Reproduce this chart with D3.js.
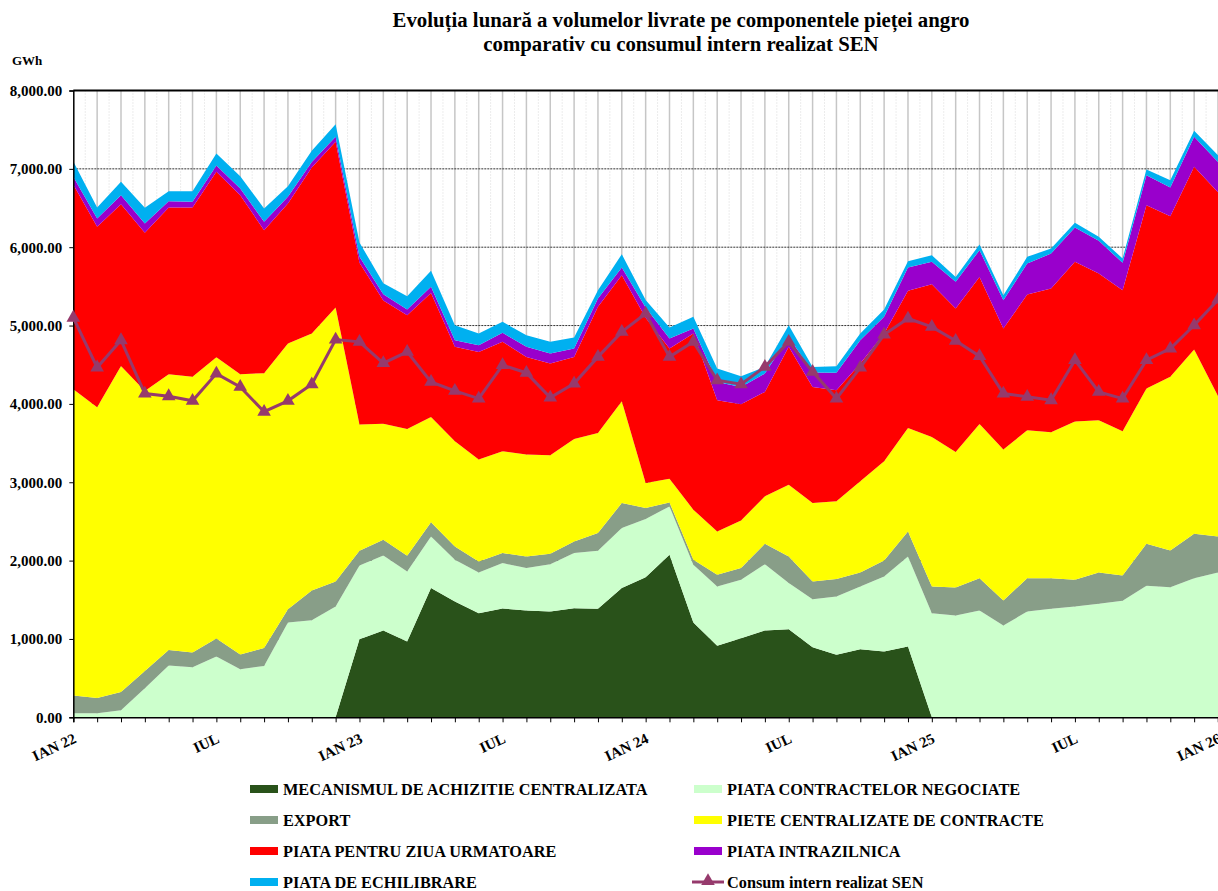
<!DOCTYPE html>
<html>
<head>
<meta charset="utf-8">
<script src="https://cdn.jsdelivr.net/npm/d3@7"></script>
<style>
  body { margin: 0; background: #fff; }
  text { font-family: "Liberation Serif", "Times New Roman", serif; font-weight: bold; fill: #000; }
</style>
</head>
<body>
<svg id="chart"></svg>
<script>
// months Jan 2022 .. Jan 2026
var months = [
  "2022-01","2022-02","2022-03","2022-04","2022-05","2022-06","2022-07","2022-08","2022-09","2022-10","2022-11","2022-12",
  "2023-01","2023-02","2023-03","2023-04","2023-05","2023-06","2023-07","2023-08","2023-09","2023-10","2023-11","2023-12",
  "2024-01","2024-02","2024-03","2024-04","2024-05","2024-06","2024-07","2024-08","2024-09","2024-10","2024-11","2024-12",
  "2025-01","2025-02","2025-03","2025-04","2025-05","2025-06","2025-07","2025-08","2025-09","2025-10","2025-11","2025-12",
  "2026-01"
];
var tickLabels = {
  "2022-01": "IAN 22", "2022-07": "IUL", "2023-01": "IAN 23", "2023-07": "IUL",
  "2024-01": "IAN 24", "2024-07": "IUL", "2025-01": "IAN 25", "2025-07": "IUL", "2026-01": "IAN 26"
};
var yTicks = [0, 1000, 2000, 3000, 4000, 5000, 6000, 7000, 8000];

// GWh per month
var mecanism = [0,0,0,0,0,0,0,0,0,0,0,0,
  997,1108,967,1649,1478,1329,1389,1363,1350,1393,1385,1649,
  1789,2075,1210,912,1010,1108,1125,895,797,869,839,903,
  0,0,0,0,0,0,0,0,0,0,0,0,0];
var negociate = [51,51,90,370,660,639,775,613,656,1210,1240,1414,
  941,958,895,660,533,520,579,541,605,703,741,766,
  741,617,737,758,745,847,588,613,745,801,959,1150,
  1329,1299,1363,1172,1350,1385,1414,1448,1487,1678,1661,1776,1849];
var exportv = [226,196,234,220,200,187,230,188,230,170,379,320,
  188,200,200,179,170,140,128,149,132,149,226,320,
  141,51,64,149,149,260,340,226,222,179,204,320,
  341,358,413,319,426,391,341,401,323,537,469,567,460];
var pccb = [3911,3711,4161,3575,3519,3519,3591,3578,3506,3390,3279,3496,
  1610,1481,1619,1346,1342,1300,1299,1300,1257,1308,1278,1299,
  320,303,639,554,609,605,916,1001,992,1163,1265,1320,
  1908,1730,1969,1926,1888,1862,2019,1942,1841,1981,2215,2351,1791];
var pzu = [2612,2302,2064,2018,2127,2161,2366,2285,1825,1788,2119,2115,
  2064,1573,1451,1583,1205,1375,1397,1247,1171,1047,1609,1609,
  2110,1661,2248,1674,1483,1333,1759,1482,1419,1503,1631,1750,
  1950,1830,1876,1545,1732,1835,2039,1873,1800,2340,2051,2332,2600];
var intrazilnica = [98,106,115,119,81,73,81,85,107,85,72,64,
  77,80,73,77,85,85,115,128,128,107,106,98,
  130,127,64,234,221,234,128,183,221,298,213,298,
  285,341,341,362,396,446,438,417,349,383,366,383,389];
var echilibrare = [197,140,170,200,128,136,153,157,170,136,141,161,
  183,140,170,204,191,149,140,149,149,140,106,170,
  95,141,149,170,136,86,148,70,85,85,93,80,
  85,63,72,63,85,64,60,51,56,73,93,76,86];
var consum = [5100,4465,4813,4132,4098,4039,4387,4217,3900,4039,4251,4822,
  4792,4520,4664,4281,4166,4068,4494,4396,4081,4260,4600,4919,
  5153,4600,4792,4302,4251,4473,4792,4409,4068,4464,4885,5090,
  4983,4805,4609,4132,4090,4047,4558,4153,4068,4558,4707,5004,5330];

var seriesNames = [
  "MECANISMUL DE ACHIZITIE CENTRALIZATA", "PIATA CONTRACTELOR NEGOCIATE", "EXPORT",
  "PIETE CENTRALIZATE DE CONTRACTE", "PIATA PENTRU ZIUA URMATOARE", "PIATA INTRAZILNICA",
  "PIATA DE ECHILIBRARE"
];
var seriesValues = [mecanism, negociate, exportv, pccb, pzu, intrazilnica, echilibrare];
var colors = ["#29521a", "#ccffcc", "#889e88", "#ffff00", "#ff0000", "#9900cc", "#00b0f0"];
var lineColor = "#963a6c";

var width = 1218, height = 891;
var margin = {top: 90.5, left: 73.3, bottom: 717.3, right: 1218};

var svg = d3.select("#chart")
    .attr("width", width)
    .attr("height", height);

var x = d3.scalePoint().domain(months).range([margin.left, margin.right]);
var y = d3.scaleLinear().domain([0, 8000]).range([margin.bottom, margin.top]);
var step = x.step();

// table for d3.stack
var table = months.map(function(m, i) {
  var row = {month: m};
  seriesNames.forEach(function(n, k) { row[n] = seriesValues[k][i]; });
  return row;
});
var stacked = d3.stack().keys(seriesNames)(table);

// grid
var grid = svg.append("g");
grid.selectAll(".vminor")
  .data(months.slice(0, -1))
  .enter().append("line")
  .attr("x1", function(d) { return x(d) + step / 2; })
  .attr("x2", function(d) { return x(d) + step / 2; })
  .attr("y1", margin.top).attr("y2", margin.bottom)
  .attr("stroke", "#d9d9d9").attr("stroke-dasharray", "1,2");
grid.selectAll(".vmajor")
  .data(months.slice(1))
  .enter().append("line")
  .attr("x1", function(d) { return x(d); })
  .attr("x2", function(d) { return x(d); })
  .attr("y1", margin.top).attr("y2", margin.bottom)
  .attr("stroke", "#c6c6c6").attr("stroke-width", 1.5);
grid.selectAll(".hgrid")
  .data(yTicks.slice(1, -1))
  .enter().append("line")
  .attr("x1", margin.left).attr("x2", margin.right)
  .attr("y1", function(d) { return y(d); })
  .attr("y2", function(d) { return y(d); })
  .attr("stroke", "#333").attr("stroke-dasharray", "2,1");

// stacked areas
var area = d3.area()
  .x(function(d) { return x(d.data.month); })
  .y0(function(d) { return y(d[0]); })
  .y1(function(d) { return y(d[1]); });

svg.selectAll(".layer")
  .data(stacked)
  .enter().append("path")
  .attr("d", area)
  .attr("fill", function(d, i) { return colors[i]; });

// top border
svg.append("line")
  .attr("x1", margin.left).attr("x2", margin.right)
  .attr("y1", y(8000)).attr("y2", y(8000))
  .attr("stroke", "#000").attr("stroke-width", 2);

// axes
var yAxis = d3.axisLeft(y).tickValues(yTicks).tickSize(4).tickPadding(7)
  .tickFormat(d3.format(",.2f"));
var gy = svg.append("g")
  .attr("transform", "translate(" + margin.left + ",0)")
  .call(yAxis);
gy.selectAll("text").style("font-size", "15px");
gy.select(".domain").attr("stroke-width", 1.5);

var xAxis = d3.axisBottom(x).tickSize(5).tickFormat("");
var gx = svg.append("g")
  .attr("transform", "translate(0," + margin.bottom + ")")
  .call(xAxis);
gx.select(".domain").attr("stroke-width", 1.5);

svg.selectAll(".xlab")
  .data(months.filter(function(m) { return tickLabels[m]; }))
  .enter().append("text")
  .attr("transform", function(d) { return "translate(" + (x(d) + 4) + ",742) rotate(-25)"; })
  .attr("text-anchor", "end")
  .style("font-size", "15px")
  .text(function(d) { return tickLabels[d]; });

// consumption line
var line = d3.line()
  .x(function(d, i) { return x(months[i]); })
  .y(function(d) { return y(d); });
svg.append("path")
  .datum(consum)
  .attr("d", line)
  .attr("fill", "none")
  .attr("stroke", lineColor)
  .attr("stroke-width", 3);

var tri = d3.symbol().type(d3.symbolTriangle).size(80);
svg.selectAll(".mark")
  .data(consum)
  .enter().append("path")
  .attr("d", tri)
  .attr("transform", function(d, i) { return "translate(" + x(months[i]) + "," + y(d) + ")"; })
  .attr("fill", lineColor);

// titles
svg.append("text")
  .attr("x", 681).attr("y", 27)
  .attr("text-anchor", "middle")
  .style("font-size", "20.8px")
  .text("Evoluția lunară a volumelor livrate pe componentele pieței angro");
svg.append("text")
  .attr("x", 681).attr("y", 51)
  .attr("text-anchor", "middle")
  .style("font-size", "20.8px")
  .text("comparativ cu consumul intern realizat SEN");
svg.append("text")
  .attr("x", 12).attr("y", 65)
  .style("font-size", "13px")
  .text("GWh");

// legend
var legend = svg.append("g");
var legendItems = seriesNames.map(function(n, i) { return {name: n, color: colors[i], kind: "area"}; });
legendItems.push({name: "Consum intern realizat SEN", color: lineColor, kind: "line"});
legendItems.forEach(function(d, i) {
  var col = i % 2, row = Math.floor(i / 2);
  var lx = col === 0 ? 250 : 694;
  var ly = 789 + row * 31;
  var g = legend.append("g").attr("transform", "translate(" + lx + "," + ly + ")");
  if (d.kind === "area") {
    g.append("rect").attr("x", 0).attr("y", -4).attr("width", 28).attr("height", 8).attr("fill", d.color);
  } else {
    g.append("line").attr("x1", -2).attr("x2", 30).attr("y1", 0).attr("y2", 0)
      .attr("stroke", d.color).attr("stroke-width", 3);
    g.append("path").attr("d", tri).attr("transform", "translate(14,-1)").attr("fill", d.color);
  }
  g.append("text").attr("x", 33).attr("y", 5.5).style("font-size", "16.3px").text(d.name);
});
</script>
</body>
</html>
